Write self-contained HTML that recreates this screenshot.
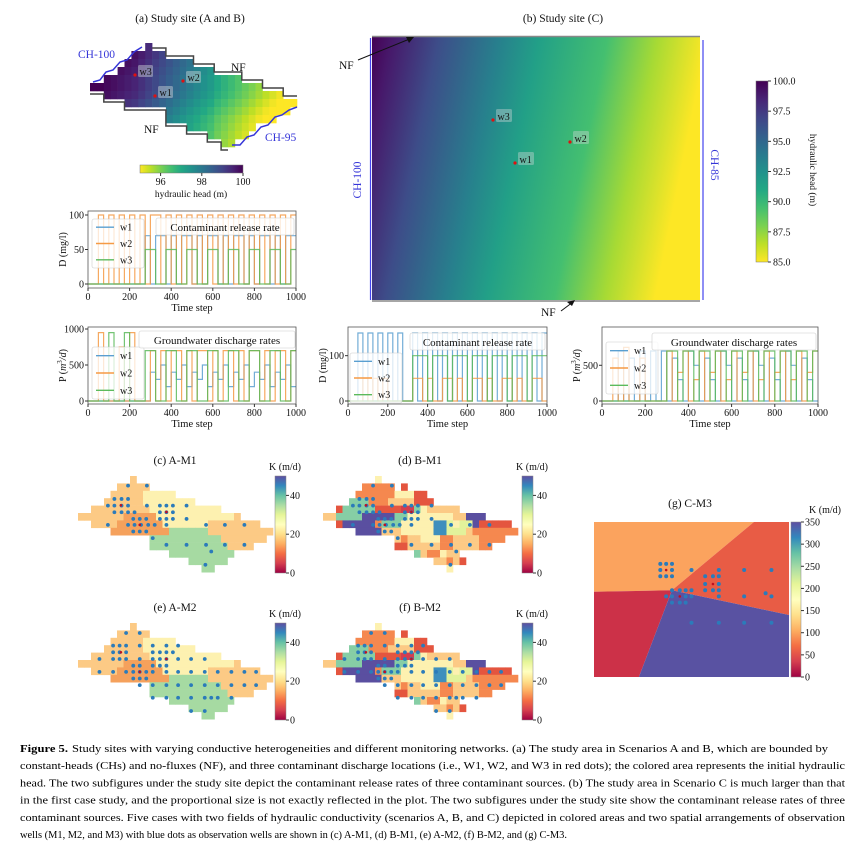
<!DOCTYPE html>
<html><head><meta charset="utf-8"><style>
body{margin:0;background:#fff}
svg{display:block;font-family:"Liberation Serif",serif}
</style></head><body>
<svg id="fig" width="865" height="847" viewBox="0 0 865 847" xmlns="http://www.w3.org/2000/svg">
<defs>
<linearGradient id="gradB" gradientUnits="userSpaceOnUse" x1="372" y1="37" x2="695" y2="103"></linearGradient>
<linearGradient id="cbB" x1="0" y1="1" x2="0" y2="0"></linearGradient>
<linearGradient id="cbA" x1="0" y1="0" x2="1" y2="0"></linearGradient>
<linearGradient id="cbK" x1="0" y1="1" x2="0" y2="0"></linearGradient>
</defs>
<g id="root"></g>
</svg>
<script>
// ===== data =====
const fieldA = [
"........a.....................",
"......aaaaa...................",
".....aaaaappppp...............",
"....aaaaaapppppppp............",
"..aaaaaaaaappppppppppp........",
"aaaaaaaoooooppppppppppppa.....",
"..aaaaooooooopppppppaaaaaaaa..",
".....oooooooooggggggaaaaaaaaaa",
"...........gggggggggggaaaaaaa.",
"...........ggggggggggggaaaa...",
"..............gggggggggg......",
".................gggggg.......",
"...................gg........."];
const fieldB = [
"........p.....................",
"......OOOOO.r.................",
".....OOOOOOppprr..............",
"....tttOOOaaaarrr.............",
"..rtttttrrrrRRtpaaaaa.........",
"aattttVVVVVttpppppppaaVVV.....",
"..rVVVVVOtttpppppBBypyyVrrrrr.",
".....VVVVaaapppppBByyyaOOOOOOO",
"...........aOaapppOOaaaaOOOO..",
"...........rraaaaaOOaaaaOO....",
"..............taOOpaa.........",
".................aaOar........",
"...................p.........."];
const kColors = {a:"#fcca85",p:"#fdf1b0",o:"#f5a15c",g:"#a6daa2",O:"#f5884f",r:"#e4553f",t:"#86cea5",B:"#3e8fbd",V:"#5a4fa0",y:"#e2f29b",R:"#d43d4f"};
const wellsM1 = [[1.3,[7.7,10.6]],[3.1,[5.6,6.7,7.7]],[4.0,[4.6,5.6,6.7,7.7,10.6,12.6,13.6,14.6,16.7]],[4.9,[5.6,6.7,7.7,8.7,12.6,13.6,14.6]],[5.8,[8.5,9.5,10.5,12.6,13.6,14.6,16.7]],[6.6,[4.6,7.7,8.7,9.7,10.8,11.8,13.6,19.7,22.6,25.6]],[7.5,[8.5,9.5,10.5]],[8.4,[11.5]],[9.3,[13.6,16.7,19.7,22.6,25.6]],[10.2,[20.5]],[12.0,[19.6]]];
const wellsM2 = [[1.35,[7.4,9.5]],[3.06,[5.4,6.4,7.4,9.5,11.5,13.6,15.4]],[3.96,[5.4,6.4,7.4,11.5,12.6,13.6,14.6]],[4.86,[3.3,5.4,6.4,7.4,9.5,11.5,12.6,13.6,15.4,17.4,19.5]],[5.77,[8.5,9.5,11.5,12.6,13.6]],[6.6,[3.3,5.4,7.4,8.5,9.5,10.5,11.5,13.6,15.4,17.4,19.5,21.5,23.6,25.6,27.4]],[7.5,[8.5,9.5,10.5]],[8.4,[9.5,11.5,13.6,15.4,17.4,19.5,21.5,23.6,25.6,27.4]],[10.1,[11.5,13.6,15.4,17.4,19.5,20.5,21.5,23.6]],[11.9,[17.4,19.5]]];
const srcA = [[6.6,3.96],[13.6,4.86],[9.5,6.6]];
const headCols = [100,100,99.9,99.8,99.7,99.6,99.5,99.3,99.1,98.9,98.7,98.5,98.3,98.1,97.9,97.7,97.5,97.3,97.0,96.8,96.6,96.4,96.2,96.0,95.8,95.6,95.4,95.2,95.1,95.0];
const headRowAdj = [0.3,0.3,0.2,0.1,0,0,-0.1,-0.3,-0.5,-0.7,-0.8,-0.9,-1.0];
// time series (bins of 25 steps)
const binSize = 25;
const p1w1 = [0,0,0,0,0,0,0,0,0,0,0,70,0,70,70,0,70,0,70,70,0,70,0,70,70,0,70,0,70,70,0,70,0,70,70,0,70,0,70,70];
const p1w2 = [0,0,100,0,100,0,100,0,100,0,100,0,100,100,0,100,0,100,0,100,0,100,0,100,0,100,0,100,0,100,0,100,0,100,0,100,0,100,0,100];
const p1w3 = [0,0,0,0,0,0,0,0,0,0,0,50,50,0,0,50,50,0,0,50,50,0,0,50,50,0,0,50,50,0,0,50,50,0,0,50,50,0,0,50];
const p2w1 = [0,0,0,0,0,0,0,0,0,0,0,0,400,300,500,200,400,300,500,200,400,300,500,200,400,300,500,200,400,300,500,200,400,300,500,200,400,300,500,200];
const p2w2 = [0,0,950,0,0,0,750,0,950,0,0,0,700,0,700,0,700,700,0,700,0,700,700,0,700,0,700,700,0,700,0,700,700,0,700,0,700,700,0,700];
const p2w3 = [0,0,0,0,950,0,0,950,0,0,0,700,700,0,0,700,700,0,0,700,700,0,0,700,700,0,0,700,700,0,0,700,700,0,0,700,700,0,0,700];
const p3w1 = [0,0,150,0,150,0,150,0,150,0,150,0,0,150,0,150,0,150,0,150,0,150,0,150,0,150,0,150,0,150,0,150,0,150,0,150,0,150,0,150];
const p3w2 = [0,0,0,50,0,50,0,50,0,0,0,0,0,50,50,0,50,0,0,50,50,0,50,0,0,50,50,0,50,0,0,50,50,0,50,0,0,50,50,0];
const p3w3 = [0,0,0,0,0,0,0,0,0,0,0,0,0,100,100,100,0,100,100,100,0,100,100,100,0,100,100,100,0,100,100,100,0,100,100,100,0,100,100,100];
const p4w1 = [0,0,0,700,0,600,0,700,0,700,0,700,0,600,300,0,700,500,0,600,300,0,700,500,0,600,300,0,700,500,0,600,300,0,700,500,0,600,300,0];
const p4w2 = [0,0,600,0,750,0,0,600,0,0,0,0,700,0,400,700,0,300,700,0,400,700,0,300,700,0,400,700,0,300,700,0,400,700,0,300,700,0,400,700];
const p4w3 = [0,0,0,0,0,0,0,0,0,0,0,0,700,700,0,700,700,0,700,700,0,700,700,0,700,700,0,700,700,0,700,700,0,700,700,0,700,700,0,700];
const xTicks = [0,200,400,600,800,1000];
// scenario C
const regionsG = [
 {c:"#fba35e",pts:[[0,0],[0.82,0],[0.4,0.44],[0,0.45]]},
 {c:"#e85c45",pts:[[0.82,0],[1,0],[1,0.6],[0.4,0.44]]},
 {c:"#cc3148",pts:[[0,0.45],[0.4,0.44],[0.23,1],[0,1]]},
 {c:"#5952a2",pts:[[0.4,0.44],[1,0.6],[1,1],[0.23,1]]}];
const wellsG = [[0.34,0.27],[0.37,0.27],[0.40,0.27],[0.34,0.31],[0.40,0.31],[0.34,0.35],[0.37,0.35],[0.40,0.35],[0.50,0.31],[0.57,0.35],[0.61,0.35],[0.64,0.35],[0.57,0.40],[0.64,0.40],[0.57,0.44],[0.61,0.44],[0.64,0.44],[0.64,0.31],[0.77,0.31],[0.91,0.31],[0.40,0.44],[0.44,0.44],[0.47,0.44],[0.50,0.44],[0.37,0.48],[0.40,0.48],[0.47,0.48],[0.50,0.48],[0.64,0.48],[0.77,0.48],[0.88,0.46],[0.91,0.48],[0.40,0.52],[0.44,0.52],[0.47,0.52],[0.50,0.65],[0.64,0.65],[0.77,0.65],[0.91,0.65]];
const srcG = [[0.37,0.31],[0.61,0.40],[0.44,0.48]];
const headBStops = [[0,100],[0.06,99],[0.2,96.5],[0.38,93.5],[0.5,91.5],[0.7,89.5],[0.85,87],[1,85]];
const cbBTicks = [100.0,97.5,95.0,92.5,90.0,87.5,85.0];
const kTicks = [0,20,40];
const gTicks = [0,50,100,150,200,250,300,350];

// ===== helpers =====
const NS="http://www.w3.org/2000/svg";
const root=document.getElementById('root');
function el(tag,attrs,parent,text){const e=document.createElementNS(NS,tag);for(const k in attrs)e.setAttribute(k,attrs[k]);if(text!==undefined)e.textContent=text;(parent||root).appendChild(e);return e;}
const VIR=["#440154","#482475","#414487","#355f8d","#2a788e","#21918c","#22a884","#44bf70","#7ad151","#bddf26","#fde725"];
const SPEC=["#9e0142","#d53e4f","#f46d43","#fdae61","#fee08b","#ffffbf","#e6f598","#abdda4","#66c2a5","#3288bd","#5e4fa2"];
function interp(arr,t){t=Math.max(0,Math.min(1,t));const f=t*(arr.length-1),i=Math.min(arr.length-2,Math.floor(f)),u=f-i;const a=arr[i],b=arr[i+1];const h=s=>[1,3,5].map(j=>parseInt(s.substr(j,2),16));const A=h(a),B=h(b);return "rgb("+A.map((v,k)=>Math.round(v+(B[k]-v)*u)).join(",")+")";}
function txt(x,y,s,size,anchor,parent,extra){const t=el('text',Object.assign({x:x,y:y,'font-size':size,'text-anchor':anchor||'start',fill:'#111'},extra||{}),parent,s);return t;}

// ===== (a) =====
const gA=el('g',{});

txt(190,22,"(a) Study site (A and B)",11.5,'middle',gA);
const aX0=90,aY0=43,aCw=6.9,aCh=8;
fieldA.forEach((row,r)=>{for(let c=0;c<30;c++){if(row[c]&&row[c]!=='.'){const h=Math.max(95,Math.min(100,headCols[c]+headRowAdj[r]));const rc=el('rect',{x:aX0+c*aCw,y:aY0+r*aCh,width:aCw+0.3,height:aCh+0.3,fill:interp(VIR,(100-h)/5)},gA);}}});
// boundaries from mask
function colTop(f,c){for(let r=0;r<f.length;r++)if(f[r][c]&&f[r][c]!=='.')return r;return -1;}
function colBot(f,c){for(let r=f.length-1;r>=0;r--)if(f[r][c]&&f[r][c]!=='.')return r;return -1;}
let dT="",dB="";
for(let c=9;c<30;c++){const r=colTop(fieldA,c);const y=aY0+r*aCh-3;dT+=(c===9?"M":"L")+(aX0+c*aCw)+" "+y+" L"+(aX0+(c+1)*aCw)+" "+y+" ";}
for(let c=0;c<20;c++){const r=colBot(fieldA,c);const y=aY0+(r+1)*aCh+3;dB+=(c===0?"M":"L")+(aX0+c*aCw)+" "+y+" L"+(aX0+(c+1)*aCw)+" "+y+" ";}
let p=el('path',{d:dT,stroke:'#444',fill:'none','stroke-width':1.5},gA);
p=el('path',{d:dB,stroke:'#444',fill:'none','stroke-width':1.5},gA);
p=el('path',{d:"M93 82 L100 80 L106 72 L113 70 L120 62 L127 60 L134 52 L142 47",stroke:'#3535d8',fill:'none','stroke-width':1.5},gA);
p=el('path',{d:"M232 145 L240 145 L247 137 L254 135 L261 127 L268 125 L275 117 L282 115 L289 110 L297 107",stroke:'#3535d8',fill:'none','stroke-width':1.5},gA);
txt(78,58,"CH-100",11.5,'start',gA,{fill:'#3535d8'});
txt(265,141,"CH-95",11.5,'start',gA,{fill:'#3535d8'});
txt(231,71,"NF",11.5,'start',gA);
txt(144,133,"NF",11.5,'start',gA);
[["w3",135,75],["w2",183,81],["w1",155,96]].forEach(w=>{const b=el('rect',{x:w[1]+3,y:w[2]-10,width:15,height:12,fill:'#cfd8d8','fill-opacity':0.45,rx:1.5},gA);const d=el('circle',{cx:w[1],cy:w[2],r:1.6,fill:'#e01010'},gA);txt(w[1]+4.5,w[2],w[0],10,'start',gA);});
// horizontal colorbar
[0,0.1,0.2,0.3,0.4,0.5,0.6,0.7,0.8,0.9,1].forEach(o=>el('stop',{offset:o,'stop-color':interp(VIR,1-o)},document.getElementById('cbA')));
p=el('rect',{x:140,y:165,width:103,height:8,fill:'url(#cbA)',stroke:'#777','stroke-width':0.5},gA);
[96,98,100].forEach(v=>{const x=140+(v-95)/5*103;el('line',{x1:x,x2:x,y1:173,y2:176,stroke:'#333'},gA);txt(x,185,String(v),10,'middle',gA);});
txt(191,197,"hydraulic head (m)",9.5,'middle',gA);

// ===== (b) =====
const gB=el('g',{});

txt(563,22,"(b) Study site (C)",11.5,'middle',gB);
headBStops.forEach(s=>el('stop',{offset:s[0],'stop-color':interp(VIR,(100-s[1])/15)},document.getElementById('gradB')));
p=el('rect',{x:372,y:37,width:328,height:263,fill:'url(#gradB)'},gB);
el('line',{x1:372,x2:700,y1:36.5,y2:36.5,stroke:'#888','stroke-width':1.5},gB);
el('line',{x1:372,x2:700,y1:301,y2:301,stroke:'#888','stroke-width':1.5},gB);
el('line',{x1:370.5,x2:370.5,y1:38,y2:300,stroke:'#4444ee','stroke-width':1.2},gB);
el('line',{x1:703,x2:703,y1:40,y2:300,stroke:'#4444ee','stroke-width':1.2},gB);
el('line',{x1:358,y1:60,x2:412,y2:38,stroke:'#111','stroke-width':1},gB);
el('path',{d:"M414 37 L406 37 L409 43 Z",fill:'#111'},gB);
el('line',{x1:561,y1:311,x2:573,y2:302,stroke:'#111','stroke-width':1},gB);
el('path',{d:"M575 300 L567 302 L572 306 Z",fill:'#111'},gB);
txt(339,69,"NF",11.5,'start',gB);
txt(541,316,"NF",11.5,'start',gB);
txt(0,0,"CH-100",11.5,'middle',gB,{fill:'#3535d8',transform:'translate(361,180) rotate(-90)'});
txt(0,0,"CH-85",11.5,'middle',gB,{fill:'#3535d8',transform:'translate(711,165) rotate(90)'});
[["w3",493,120],["w2",570,142],["w1",515,163]].forEach(w=>{el('rect',{x:w[1]+3,y:w[2]-11,width:16,height:13,fill:'#cfd8d8','fill-opacity':0.4,rx:1.5},gB);const d=el('circle',{cx:w[1],cy:w[2],r:1.6,fill:'#e01010'},gB);txt(w[1]+4.5,w[2],w[0],10,'start',gB);});
[0,0.1,0.2,0.3,0.4,0.5,0.6,0.7,0.8,0.9,1].forEach(o=>el('stop',{offset:o,'stop-color':interp(VIR,1-o)},document.getElementById('cbB')));
p=el('rect',{x:756,y:81,width:12,height:181,fill:'url(#cbB)',stroke:'#777','stroke-width':0.5},gB);
cbBTicks.forEach(v=>{const y=262-(v-85)/15*181;el('line',{x1:768,x2:771,y1:y,y2:y,stroke:'#333'},gB);txt(773,y+3.5,v.toFixed(1),10,'start',gB);});
txt(0,0,"hydraulic head (m)",9.5,'middle',gB,{transform:'translate(810,170) rotate(90)'});

// ===== time series =====
const tsColors=["#5a9fd0","#f59a45","#5cba5c"];
function tsPlot(name,box,ymax,ymin,yTicks,ylab,title,series,legendBox,titleBox,yfmt){
  const g=el('g',{});
  
  const X=v=>box.x0+(v/1000)*(box.x1-box.x0);
  const Y=v=>box.yb-(v-ymin)/(ymax-ymin)*(box.yb-box.yt);
  series.forEach((s,k)=>{let d="";s.forEach((v,i)=>{const y=Y(v).toFixed(1);d+=(i===0?"M"+X(0)+" "+y:" L"+X(i*binSize).toFixed(1)+" "+y)+" L"+X((i+1)*binSize).toFixed(1)+" "+y;});const pth=el('path',{d:d,stroke:tsColors[k],fill:'none','stroke-width':1.2,'stroke-opacity':0.85},g);});
  el('rect',{x:box.x0,y:box.fy0,width:box.x1-box.x0,height:box.fy1-box.fy0,fill:'none',stroke:'#555','stroke-width':0.8},g);
  yTicks.forEach(v=>{const y=Y(v);el('line',{x1:box.x0-3,x2:box.x0,y1:y,y2:y,stroke:'#333'},g);txt(box.x0-4,y+3.5,String(v),10,'end',g);});
  xTicks.forEach(v=>{const x=X(v);el('line',{x1:x,x2:x,y1:box.fy1,y2:box.fy1+3,stroke:'#333'},g);txt(x,box.fy1+12,String(v),10,'middle',g);});
  txt((box.x0+box.x1)/2,box.fy1+23,"Time step",10.5,'middle',g);
  const yl=txt(0,0,ylab,10,'middle',g,{transform:'translate('+(box.x0-22)+','+((box.fy0+box.fy1)/2)+') rotate(-90)'});
  if(yfmt){yl.textContent="";el('tspan',{},yl,"P (");el('tspan',{'font-style':'italic'},yl,"m");el('tspan',{'font-size':7,dy:-4},yl,"3");el('tspan',{dy:4,'font-style':'italic'},yl,"/d");el('tspan',{},yl,")");}
  const lb=el('rect',{x:legendBox[0],y:legendBox[1],width:legendBox[2],height:legendBox[3],fill:'#fff','fill-opacity':0.75,stroke:'#ccc','stroke-width':0.6,rx:2},g);
  ["w1","w2","w3"].forEach((w,k)=>{const y=legendBox[1]+legendBox[3]*(k+0.5)/3;el('line',{x1:legendBox[0]+4,x2:legendBox[0]+22,y1:y,y2:y,stroke:tsColors[k],'stroke-width':1.4},g);const t=txt(legendBox[0]+28,y+3.5,w,10,'start',g);});
  el('rect',{x:titleBox[0],y:titleBox[1],width:titleBox[2],height:titleBox[3],fill:'#fff','fill-opacity':0.8,stroke:'#ccc','stroke-width':0.6,rx:2},g);
  txt(titleBox[0]+titleBox[2]/2,titleBox[1]+titleBox[3]-4,title,11,'middle',g);
}
tsPlot('plot-release-rate-ab',{x0:88,x1:296,yt:215,yb:284,fy0:211,fy1:288},100,0,[0,50,100],"D (mg/l)","Contaminant release rate",[p1w1,p1w2,p1w3],[92,219,52,49],[156,218,138,17]);
tsPlot('plot-discharge-ab',{x0:88,x1:296,yt:329,yb:401,fy0:327,fy1:404},1000,0,[0,500,1000],"P","Groundwater discharge rates",[p2w1,p2w2,p2w3],[92,347,52,52],[139,331,156,17],true);
tsPlot('plot-release-rate-c',{x0:348,x1:547,yt:333,yb:401,fy0:327,fy1:404},150,0,[0,100],"D (mg/l)","Contaminant release rate",[p3w1,p3w2,p3w3],[350,353,52,50],[410,333,135,17]);
tsPlot('plot-discharge-c',{x0:602,x1:818,yt:351,yb:401,fy0:327,fy1:404},700,0,[0,500],"P","Groundwater discharge rates",[p4w1,p4w2,p4w3],[606,342,52,52],[652,333,164,17],true);

// ===== K maps =====
[0,0.1,0.2,0.3,0.4,0.5,0.6,0.7,0.8,0.9,1].forEach(o=>el('stop',{offset:o,'stop-color':interp(SPEC,o)},document.getElementById('cbK')));
function kMap(name,title,field,wells,ox,oy,cbx){
  const g=el('g',{});
  
  const cw=6.5,ch=7.4;
  txt(ox+97,oy-12,title,11.5,'middle',g);
  field.forEach((row,r)=>{for(let c=0;c<30;c++){const k=row[c];if(k&&k!=='.'){const rc=el('rect',{x:ox+c*cw,y:oy+r*ch,width:cw+0.3,height:ch+0.3,fill:kColors[k]},g);}}});
  wells.forEach(rw=>rw[1].forEach(x=>{const d=el('circle',{cx:ox+x*cw,cy:oy+rw[0]*ch,r:1.9,fill:'#2b7bba'},g);}));
  srcA.forEach(s=>el('circle',{cx:ox+s[0]*cw,cy:oy+s[1]*ch,r:1.3,fill:'#c01020'},g));
  const cb=el('rect',{x:cbx,y:oy,width:11,height:97,fill:'url(#cbK)',stroke:'#888','stroke-width':0.5},g);
  kTicks.forEach(v=>{const y=oy+97-v/50*97;el('line',{x1:cbx+11,x2:cbx+14,y1:y,y2:y,stroke:'#333'},g);txt(cbx+15,y+3.5,String(v),10,'start',g);});
  txt(cbx+10,oy-6,"K (m/d)",10,'middle',g);
}
kMap('panel-c-a-m1',"(c) A-M1",fieldA,wellsM1,78,476,275);
kMap('panel-d-b-m1',"(d) B-M1",fieldB,wellsM1,323,476,522);
kMap('panel-e-a-m2',"(e) A-M2",fieldA,wellsM2,78,623,275);
kMap('panel-f-b-m2',"(f) B-M2",fieldB,wellsM2,323,623,522);

// ===== (g) =====
const gG=el('g',{});

const gx0=594,gy0=522,gw=195,gh=155;
const GX=f=>gx0+f*gw,GY=f=>gy0+f*gh;
txt(690,507,"(g) C-M3",11.5,'middle',gG);
regionsG.forEach(rg=>{const pg=el('polygon',{points:rg.pts.map(q=>GX(q[0]).toFixed(1)+","+GY(q[1]).toFixed(1)).join(" "),fill:rg.c},gG);});
wellsG.forEach(w=>{const d=el('circle',{cx:GX(w[0]),cy:GY(w[1]),r:2,fill:'#2b7bba'},gG);});
srcG.forEach(s=>el('circle',{cx:GX(s[0]),cy:GY(s[1]),r:1.3,fill:'#c01020'},gG));
p=el('rect',{x:791,y:gy0,width:10,height:gh,fill:'url(#cbK)',stroke:'#888','stroke-width':0.5},gG);
gTicks.forEach(v=>{const y=gy0+gh-v/350*gh;el('line',{x1:801,x2:804,y1:y,y2:y,stroke:'#333'},gG);txt(805,y+3.5,String(v),10,'start',gG);});
txt(825,513,"K (m/d)",10,'middle',gG);

// ===== caption =====
const gC=el('g',{});

const capLines=[
 ["Study sites with varying conductive heterogeneities and different monitoring networks. (a) The study area in Scenarios A and B, which are bounded by",828],
 ["constant-heads (CHs) and no-fluxes (NF), and three contaminant discharge locations (i.e., W1, W2, and W3 in red dots); the colored area represents the initial hydraulic",845],
 ["head. The two subfigures under the study site depict the contaminant release rates of three contaminant sources. (b) The study area in Scenario C is much larger than that",845],
 ["in the first case study, and the proportional size is not exactly reflected in the plot. The two subfigures under the study site show the contaminant release rates of three",845],
 ["contaminant sources. Five cases with two fields of hydraulic conductivity (scenarios A, B, and C) depicted in colored areas and two spatial arrangements of observation",845],
 ["wells (M1, M2, and M3) with blue dots as observation wells are shown in (c) A-M1, (d) B-M1, (e) A-M2, (f) B-M2, and (g) C-M3.",567]];
capLines.forEach((l,i)=>{const y=752+i*17.2;
 if(i===0){el('text',{x:20,y:y,'font-size':11,'font-weight':'bold',textLength:48,lengthAdjust:'spacingAndGlyphs'},gC,"Figure 5.");el('text',{x:72,y:y,'font-size':11,textLength:l[1]-72,lengthAdjust:'spacingAndGlyphs'},gC,l[0]);}
 else el('text',{x:20,y:y,'font-size':11,textLength:l[1]-20,lengthAdjust:'spacingAndGlyphs'},gC,l[0]);});
</script>
</body></html>
